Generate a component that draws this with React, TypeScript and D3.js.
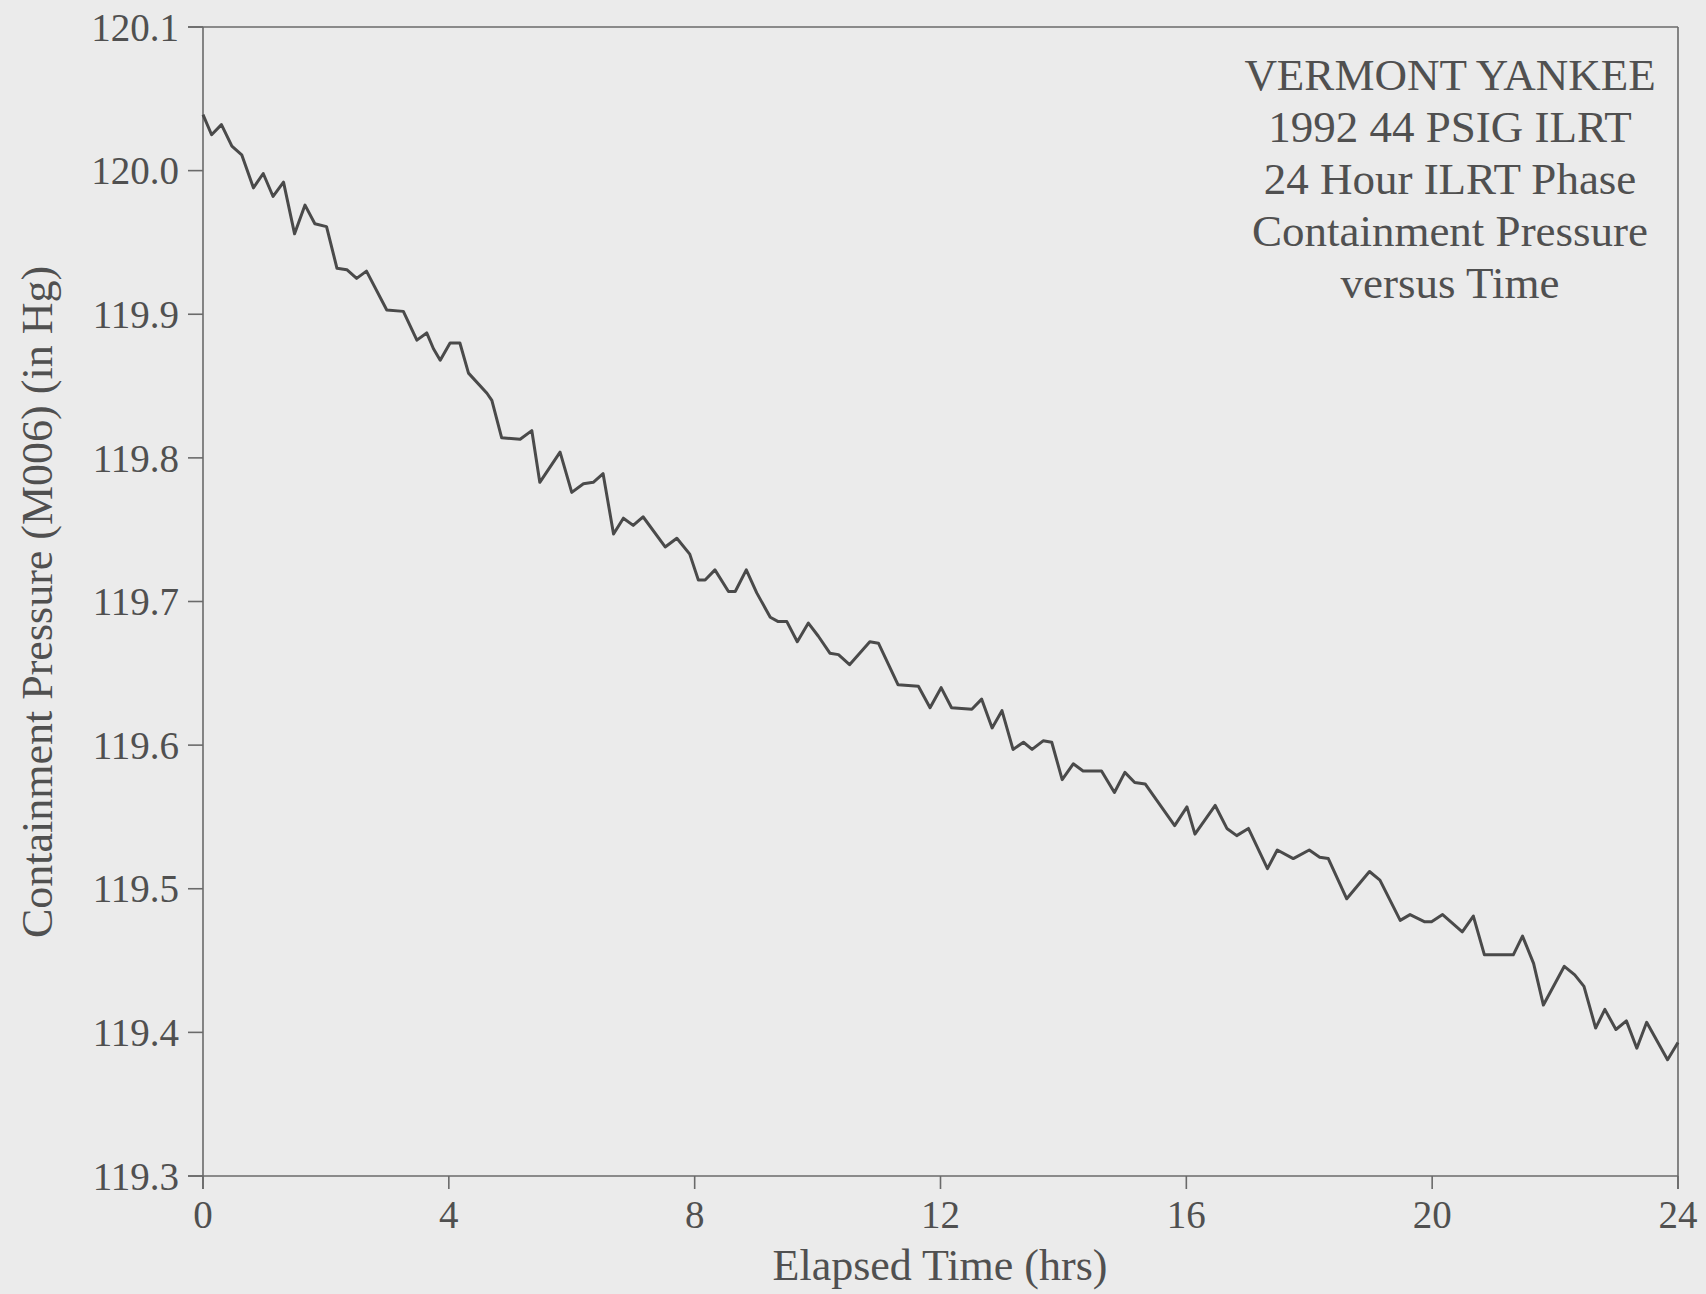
import React from "react";
import * as d3 from "d3";

const hours = [
  0, 0.14, 0.3, 0.47, 0.63, 0.82, 0.98, 1.14, 1.31, 1.49, 1.66, 1.82, 2.01, 2.18, 2.34, 2.5, 2.66,
  2.99, 3.26, 3.48, 3.64, 3.75, 3.86, 4.02, 4.18, 4.32, 4.62, 4.7, 4.86, 5.16, 5.35, 5.48, 5.81,
  6.0, 6.19, 6.35, 6.51, 6.68, 6.84, 7.0, 7.16, 7.52, 7.71, 7.92, 8.06, 8.17, 8.33, 8.55, 8.66,
  8.84, 9.01, 9.23, 9.36, 9.5, 9.67, 9.85, 10.01, 10.2, 10.34, 10.52, 10.85, 10.99, 11.31, 11.64,
  11.83, 12.01, 12.18, 12.51, 12.67, 12.84, 13.0, 13.18, 13.35, 13.49, 13.67, 13.81, 13.98, 14.16,
  14.32, 14.62, 14.83, 15.0, 15.16, 15.33, 15.81, 16.01, 16.14, 16.47, 16.66, 16.82, 17.01, 17.32,
  17.48, 17.74, 18.0, 18.17, 18.31, 18.61, 18.98, 19.15, 19.48, 19.64, 19.88, 19.99, 20.17, 20.49,
  20.67, 20.85, 21.32, 21.47, 21.65, 21.81, 22.15, 22.32, 22.47, 22.66, 22.81, 22.99, 23.16, 23.33,
  23.49, 23.83, 24.0,
];

const pressure = [
  120.039, 120.025, 120.032, 120.017, 120.011, 119.988, 119.998, 119.982, 119.992, 119.956, 119.976,
  119.963, 119.961, 119.932, 119.931, 119.925, 119.93, 119.903, 119.902, 119.882, 119.887, 119.876,
  119.868, 119.88, 119.88, 119.859, 119.845, 119.84, 119.814, 119.813, 119.819, 119.783, 119.804,
  119.776, 119.782, 119.783, 119.789, 119.747, 119.758, 119.753, 119.759, 119.738, 119.744, 119.733,
  119.715, 119.715, 119.722, 119.707, 119.707, 119.722, 119.706, 119.689, 119.686, 119.686, 119.672,
  119.685, 119.676, 119.664, 119.663, 119.656, 119.672, 119.671, 119.642, 119.641, 119.626, 119.64,
  119.626, 119.625, 119.632, 119.612, 119.624, 119.597, 119.602, 119.597, 119.603, 119.602, 119.576,
  119.587, 119.582, 119.582, 119.567, 119.581, 119.574, 119.573, 119.544, 119.557, 119.538, 119.558,
  119.542, 119.537, 119.542, 119.514, 119.527, 119.521, 119.527, 119.522, 119.521, 119.493, 119.512,
  119.506, 119.478, 119.482, 119.477, 119.477, 119.482, 119.47, 119.481, 119.454, 119.454, 119.467,
  119.448, 119.419, 119.446, 119.44, 119.432, 119.403, 119.416, 119.402, 119.408, 119.389, 119.407,
  119.381, 119.393,
];

const xTicks = [0, 4, 8, 12, 16, 20, 24];
const yTicks = [119.3, 119.4, 119.5, 119.6, 119.7, 119.8, 119.9, 120.0, 120.1];
const titleLines = [
  "VERMONT YANKEE",
  "1992 44 PSIG ILRT",
  "24 Hour ILRT Phase",
  "Containment Pressure",
  "versus Time",
];
const xLabel = "Elapsed Time (hrs)";
const yLabel = "Containment Pressure (M006) (in Hg)";

const W = 1706;
const H = 1294;
const left = 203;
const right = 1678;
const top = 27;
const bottom = 1176;

const FONT = "'Liberation Serif', 'Times New Roman', serif";
const TEXT = "#505050";
const AXIS = "#6a6a6a";
const LINE = "#4a4a4a";

export default function App() {
  const x = d3.scaleLinear().domain([0, 24]).range([left, right]);
  const y = d3.scaleLinear().domain([119.3, 120.1]).range([bottom, top]);
  const pts: [number, number][] = hours.map((h, i) => [h, pressure[i]]);
  const line = d3
    .line<[number, number]>()
    .x((d) => x(d[0]))
    .y((d) => y(d[1]));

  return (
    <svg
      width={W}
      height={H}
      style={{ position: "absolute", left: 0, top: 0, background: "#ebebeb" }}
    >
      <rect x={0} y={0} width={W} height={H} fill="#ebebeb" />
      {/* frame */}
      <line x1={left - 15} x2={right} y1={top} y2={top} stroke={AXIS} strokeWidth={1.6} />
      <line x1={right} x2={right} y1={top} y2={bottom + 13} stroke={AXIS} strokeWidth={1.6} />
      <line x1={left} x2={left} y1={top} y2={bottom + 13} stroke={AXIS} strokeWidth={1.6} />
      <line x1={left - 15} x2={right} y1={bottom} y2={bottom} stroke={AXIS} strokeWidth={1.6} />
      {/* y ticks */}
      {yTicks.map((t) => (
        <g key={"y" + t}>
          <line x1={left - 15} x2={left} y1={y(t)} y2={y(t)} stroke={AXIS} strokeWidth={1.6} />
          <text
            x={left - 24}
            y={y(t)}
            dy="0.35em"
            textAnchor="end"
            fontFamily={FONT}
            fontSize={39}
            fill={TEXT}
          >
            {t.toFixed(1)}
          </text>
        </g>
      ))}
      {/* x ticks */}
      {xTicks.map((t) => (
        <g key={"x" + t}>
          <line x1={x(t)} x2={x(t)} y1={bottom} y2={bottom + 13} stroke={AXIS} strokeWidth={1.6} />
          <text
            x={x(t)}
            y={1228}
            textAnchor="middle"
            fontFamily={FONT}
            fontSize={39}
            fill={TEXT}
          >
            {t}
          </text>
        </g>
      ))}
      {/* axis titles */}
      <text
        x={940}
        y={1280}
        textAnchor="middle"
        fontFamily={FONT}
        fontSize={44}
        fill={TEXT}
      >
        {xLabel}
      </text>
      <text
        transform="translate(52,602) rotate(-90)"
        textAnchor="middle"
        fontFamily={FONT}
        fontSize={44}
        fill={TEXT}
      >
        {yLabel}
      </text>
      {/* title block */}
      {titleLines.map((s, i) => (
        <text
          key={s}
          x={1450}
          y={90 + 52 * i}
          textAnchor="middle"
          fontFamily={FONT}
          fontSize={45}
          fill={TEXT}
        >
          {s}
        </text>
      ))}
      {/* data */}
      <path d={line(pts) || ""} fill="none" stroke={LINE} strokeWidth={3} strokeLinejoin="round" />
    </svg>
  );
}
